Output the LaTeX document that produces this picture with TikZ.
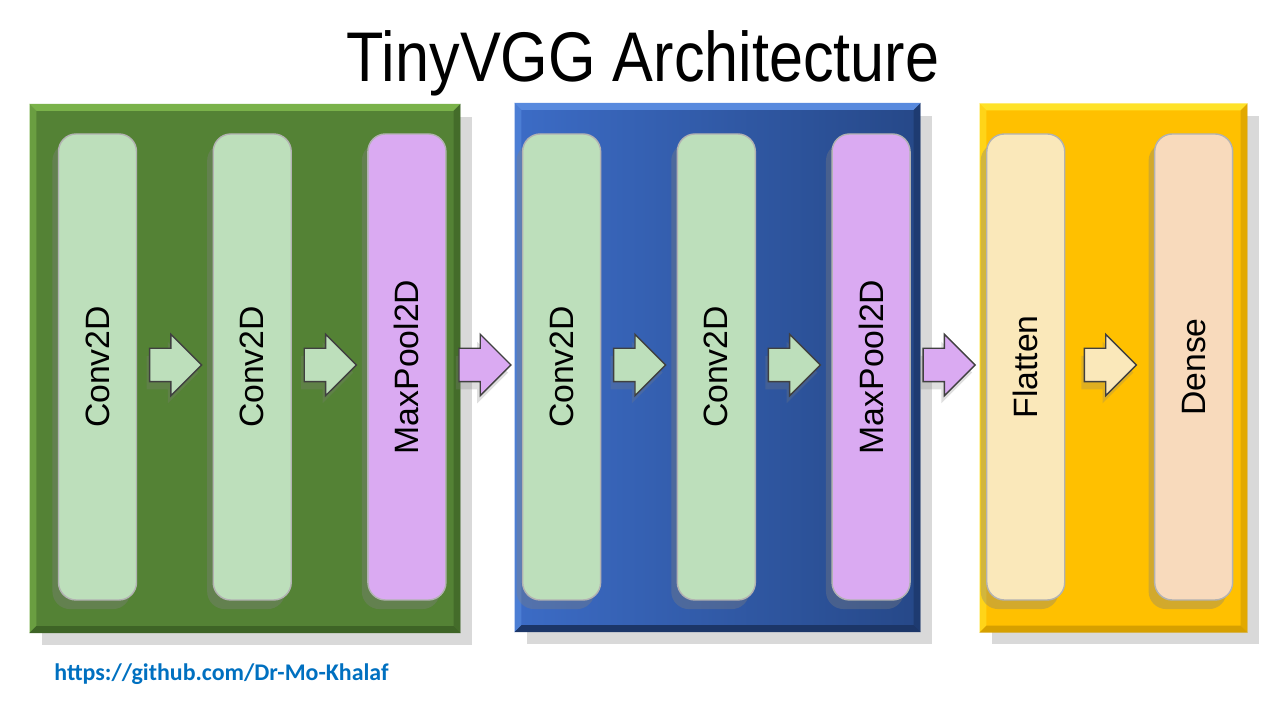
\documentclass[tikz,border=0pt]{standalone}
\usepackage{fontspec}
\setsansfont{Liberation Sans}
\newfontfamily\linkfont{Carlito}
\usetikzlibrary{shapes.arrows,positioning,calc,shadows}
\definecolor{convcolor}{RGB}{189,223,187}
\definecolor{poolcolor}{RGB}{218,170,242}
\definecolor{flatcolor}{RGB}{250,232,186}
\definecolor{densecolor}{RGB}{248,218,188}
\definecolor{greenblock}{RGB}{84,130,53}
\definecolor{greenhi}{RGB}{122,178,74}
\definecolor{greenlo}{RGB}{62,100,38}
\definecolor{blueleft}{RGB}{60,108,198}
\definecolor{blueright}{RGB}{38,72,136}
\definecolor{bluehi}{RGB}{88,138,222}
\definecolor{bluelo}{RGB}{28,54,104}
\definecolor{yellowblock}{RGB}{255,192,0}
\definecolor{yellowhi}{RGB}{255,226,40}
\definecolor{yellowlo}{RGB}{214,160,0}
\definecolor{linkblue}{RGB}{0,112,192}

\begin{document}
\begin{tikzpicture}[
    layer/.style={draw=black!30, rounded corners=5pt, minimum width=0.78cm, minimum height=4.66cm, inner sep=0pt,
        font=\sffamily\fontsize{9.6}{11}\selectfont,
        drop shadow={shadow xshift=-0.4ex, shadow yshift=-0.6ex, opacity=0.35}},
    stage/.style={minimum height=5.28cm, inner sep=0pt,
        drop shadow={shadow xshift=0.8ex, shadow yshift=-0.8ex, opacity=0.3}},
    flow/.style={single arrow, draw=black!75, inner sep=0pt, text height=0.16cm, text depth=0.16cm,
        minimum height=0.52cm, single arrow head extend=0.14cm, anchor=tail,
        drop shadow={shadow xshift=-0.2ex, shadow yshift=-0.5ex, opacity=0.25}},
    node distance=0.753cm
]
    \useasboundingbox (0,0) rectangle (12.8,7.2);

    % Title
    \node[font=\sffamily\fontsize{20}{24}\selectfont, xscale=0.87] (title) at (6.43,6.57) {TinyVGG Architecture};

    % Stages
    \node[stage, fill=greenblock, minimum width=4.30cm] (gstage) at (2.45,3.515) {};
    \node[stage, left color=blueleft, right color=blueright, minimum width=4.05cm] (bstage) at (7.175,3.525) {};
    \node[stage, fill=yellowblock, minimum width=2.67cm] (ystage) at (11.135,3.52) {};

    % Bevelled edges
    \foreach \s/\hi/\lo in {gstage/greenhi/greenlo, bstage/bluehi/bluelo, ystage/yellowhi/yellowlo} {
        \fill[\hi] (\s.north west) -- (\s.north east) -- ($(\s.north east)+(-0.07,-0.07)$) -- ($(\s.north west)+(0.07,-0.07)$) -- cycle;
        \fill[\hi, opacity=0.6] (\s.north west) -- ($(\s.north west)+(0.07,-0.07)$) -- ($(\s.south west)+(0.07,0.07)$) -- (\s.south west) -- cycle;
        \fill[\lo, opacity=0.7] (\s.north east) -- (\s.south east) -- ($(\s.south east)+(-0.07,0.07)$) -- ($(\s.north east)+(-0.07,-0.07)$) -- cycle;
        \fill[\lo] (\s.south west) -- ($(\s.south west)+(0.07,0.07)$) -- ($(\s.south east)+(-0.07,0.07)$) -- (\s.south east) -- cycle;
    }

    % Layers
    \node[layer, fill=convcolor] (conv1) at (0.975,3.53) {\rotatebox{90}{Conv2D}};
    \node[layer, fill=convcolor, right=of conv1] (conv2) {\rotatebox{90}{Conv2D}};
    \node[layer, fill=poolcolor, right=of conv2] (pool1) {\rotatebox{90}{MaxPool2D}};
    \node[layer, fill=convcolor, right=of pool1] (conv3) {\rotatebox{90}{Conv2D}};
    \node[layer, fill=convcolor, right=of conv3] (conv4) {\rotatebox{90}{Conv2D}};
    \node[layer, fill=poolcolor, right=of conv4] (pool2) {\rotatebox{90}{MaxPool2D}};
    \node[layer, fill=flatcolor, right=of pool2] (flat) {\rotatebox{90}{Flatten}};
    \node[layer, fill=densecolor, right=0.885cm of flat] (dense) {\rotatebox{90}{Dense}};

    % Arrows between layers
    \foreach \a/\b/\c in {conv1/conv2/convcolor, conv2/pool1/convcolor, pool1/conv3/poolcolor,
                          conv3/conv4/convcolor, conv4/pool2/convcolor, pool2/flat/poolcolor, flat/dense/flatcolor} {
        \node[flow, fill=\c] (\a-\b) at ($(\a.east)!0.5!(\b.west)+(-0.26,0.02)$) {};
    }

    % Link
    \node[anchor=west, font=\linkfont\bfseries\fontsize{6.8}{8}\selectfont, text=linkblue] (link) at (0.42,0.46) {https://github.com/Dr-Mo-Khalaf};
\end{tikzpicture}
\end{document}
